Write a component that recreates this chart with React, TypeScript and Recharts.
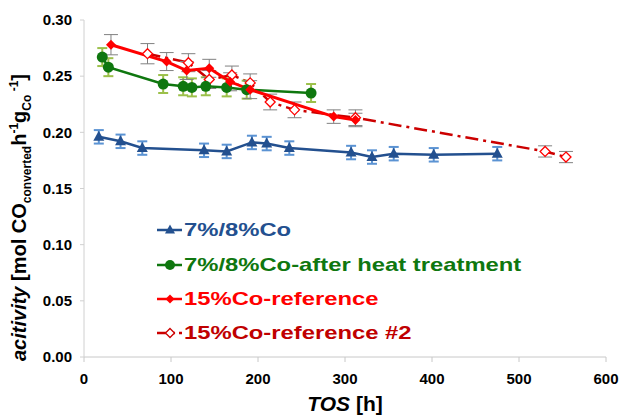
import React from 'react';
import { LineChart, Line, XAxis, YAxis, ErrorBar, Legend } from 'recharts';

// ---- data ----
const blueX = [17, 42, 67, 138, 164, 193, 210, 236, 307, 331, 356, 402, 475];
const blueY = [0.196, 0.192, 0.186, 0.184, 0.183, 0.191, 0.19, 0.186, 0.182, 0.178, 0.181, 0.18, 0.181];
const blueErr = [0.006, 0.006, 0.006, 0.006, 0.006, 0.006, 0.006, 0.006, 0.006, 0.006, 0.006, 0.006, 0.006];

const greenX = [21, 28, 91, 114, 124, 140, 164, 187, 261];
const greenY = [0.267, 0.258, 0.243, 0.241, 0.24, 0.241, 0.24, 0.238, 0.235];
const greenErr = [0.008, 0.008, 0.008, 0.008, 0.008, 0.008, 0.008, 0.008, 0.008];

const redX = [31, 95, 118, 144, 168, 191, 287, 312];
const redY = [0.278, 0.263, 0.255, 0.257, 0.245, 0.238, 0.214, 0.211];
const redErr = [0.009, 0.008, 0.008, 0.008, 0.008, 0.008, 0.006, 0.006];

const red2X = [73, 120, 144, 170, 191, 214, 242, 312, 530, 554];
const red2Y = [0.27, 0.262, 0.247, 0.251, 0.244, 0.227, 0.22, 0.213, 0.183, 0.178];
const red2Err = [0.009, 0.008, 0.008, 0.008, 0.008, 0.007, 0.007, 0.007, 0.005, 0.005];

const seriesNames = ['7%/8%Co', '7%/8%Co-after heat treatment', '15%Co-reference', '15%Co-reference #2'];
const xTicks = [0, 100, 200, 300, 400, 500, 600];
const yTicks = [0, 0.05, 0.1, 0.15, 0.2, 0.25, 0.3];

const toRows = (xs: number[], ys: number[], es: number[]) =>
  xs.map((x, i) => ({ x, y: ys[i], err: es[i] }));

const blueData = toRows(blueX, blueY, blueErr);
const greenData = toRows(greenX, greenY, greenErr);
const redData = toRows(redX, redY, redErr);
const red2Data = toRows(red2X, red2Y, red2Err);

// ---- styles ----
const BLUE = '#23508f';
const BLUE_ERR = '#5b93d3';
const GREEN = '#0f770f';
const GREEN_ERR = '#9cc04a';
const RED = '#ff0000';
const RED2 = '#cc0000';
const RED2_TEXT = '#c00000';
const GRAY_ERR = '#808080';
const FONT = '"Liberation Sans", Arial, sans-serif';

const Triangle = (p: any) => {
  const { cx, cy, fill } = p;
  if (cx == null || cy == null) return null;
  return <polygon key={p.key ?? `${cx}-${cy}`} points={`${cx},${cy - 6} ${cx - 5.5},${cy + 4} ${cx + 5.5},${cy + 4}`} fill={fill} />;
};
const Circle = (p: any) => {
  const { cx, cy, fill } = p;
  if (cx == null || cy == null) return null;
  return <circle key={p.key ?? `${cx}-${cy}`} cx={cx} cy={cy} r={5.5} fill={fill} />;
};
const Diamond = (p: any) => {
  const { cx, cy, fill, stroke, hollow } = p;
  if (cx == null || cy == null) return null;
  return (
    <polygon
      key={p.key ?? `${cx}-${cy}`}
      points={`${cx},${cy - 5} ${cx + 5},${cy} ${cx},${cy + 5} ${cx - 5},${cy}`}
      fill={hollow ? '#fff' : fill}
      stroke={stroke}
      strokeWidth={hollow ? 1.3 : 0}
    />
  );
};

const YLabel = (props: any) => {
  const cx = 26;
  const cy = 361;
  return (
    <text
      transform={`rotate(-90, ${cx}, ${cy})`}
      x={cx}
      y={cy}
      textAnchor="start"
      fontFamily={FONT}
      fontWeight="bold"
      fontSize={20}
      fill="#000"
    >
      <tspan fontStyle="italic">acitivity</tspan>
      <tspan> [mol CO</tspan>
      <tspan fontSize={12} dy={5}>converted</tspan>
      <tspan dy={-5}>h</tspan>
      <tspan fontSize={12} dy={-8}>-1</tspan>
      <tspan dy={8}>g</tspan>
      <tspan fontSize={12} dy={5}>Co</tspan>
      <tspan fontSize={12} dy={-13}> -1</tspan>
      <tspan dy={8}>]</tspan>
    </text>
  );
};

const XLabel = (props: any) => (
  <text x={345} y={411} textAnchor="middle" fontFamily={FONT} fontWeight="bold" fontSize={21} fill="#000">
    <tspan fontStyle="italic">TOS</tspan>
    <tspan> [h]</tspan>
  </text>
);

const legendItems = [
  { name: seriesNames[0], color: BLUE, text: BLUE, marker: 'tri', dash: undefined },
  { name: seriesNames[1], color: GREEN, text: GREEN, marker: 'circ', dash: undefined },
  { name: seriesNames[2], color: RED, text: RED, marker: 'dia', dash: undefined },
  { name: seriesNames[3], color: RED2, text: RED2_TEXT, marker: 'hdia', dash: '11 4 3 4' },
];

const renderLegend = () => (
  <div style={{ fontFamily: FONT, fontWeight: 'bold', fontSize: 18.6 }}>
    {legendItems.map((it) => (
      <div key={it.name} style={{ height: 34.4, display: 'flex', alignItems: 'center', whiteSpace: 'nowrap' }}>
        <svg width={26} height={20} style={{ display: 'block' }}>
          <line x1={0} y1={10} x2={25} y2={10} stroke={it.color} strokeWidth={2.5} strokeDasharray={it.dash} />
          {it.marker === 'tri' && <polygon points="13,4.5 8,13.5 18,13.5" fill={it.color} />}
          {it.marker === 'circ' && <circle cx={13} cy={10} r={5} fill={it.color} />}
          {it.marker === 'dia' && <polygon points="13,5.5 17.5,10 13,14.5 8.5,10" fill={it.color} />}
          {it.marker === 'hdia' && <polygon points="13,5.5 17.5,10 13,14.5 8.5,10" fill="#fff" stroke={it.color} strokeWidth={1.3} />}
        </svg>
        <span
          style={{
            color: it.text,
            marginLeft: 1,
            display: 'inline-block',
            transform: 'scaleX(1.28)',
            transformOrigin: 'left center',
          }}
        >
          {it.name}
        </span>
      </div>
    ))}
  </div>
);

export default function App() {
  return (
    <div style={{ position: 'absolute', left: 0, top: 0, width: 619, height: 415, background: '#fff' }}>
      <LineChart width={619} height={415} margin={{ top: 20, right: 13, bottom: 8, left: 0 }}>
        <XAxis
          type="number"
          dataKey="x"
          domain={[0, 600]}
          ticks={xTicks}
          allowDataOverflow
          height={50}
          stroke="#c8c8c8"
          tickSize={5}
          tickMargin={11}
          tick={{ fill: '#000', fontSize: 15, fontWeight: 'bold', fontFamily: FONT }}
          label={<XLabel />}
        />
        <YAxis
          type="number"
          dataKey="y"
          domain={[0, 0.3]}
          ticks={yTicks}
          width={84}
          stroke="#d0d0d0"
          tickSize={4}
          tickMargin={8}
          tickFormatter={(v: number) => v.toFixed(2)}
          tick={{ fill: '#000', fontSize: 15, fontWeight: 'bold', fontFamily: FONT }}
          label={<YLabel />}
        />
        <Legend
          layout="vertical"
          align="center"
          verticalAlign="middle"
          content={renderLegend}
          wrapperStyle={{ position: 'absolute', left: 157, top: 213, width: 420, height: 140 }}
        />
        <Line
          data={red2Data}
          dataKey="y"
          name={seriesNames[3]}
          stroke={RED2}
          strokeWidth={2.5}
          strokeDasharray="13 5 3 5"
          isAnimationActive={false}
          dot={(p: any) => <Diamond {...p} stroke={RED} hollow />}
          activeDot={false}
        >
          <ErrorBar dataKey="err" direction="y" width={7} stroke={GRAY_ERR} strokeWidth={1} />
        </Line>
        <Line
          data={blueData}
          dataKey="y"
          name={seriesNames[0]}
          stroke={BLUE}
          strokeWidth={2.5}
          isAnimationActive={false}
          dot={(p: any) => <Triangle {...p} fill={BLUE} />}
          activeDot={false}
        >
          <ErrorBar dataKey="err" direction="y" width={5} stroke={BLUE_ERR} strokeWidth={2} />
        </Line>
        <Line
          data={greenData}
          dataKey="y"
          name={seriesNames[1]}
          stroke={GREEN}
          strokeWidth={2.5}
          isAnimationActive={false}
          dot={(p: any) => <Circle {...p} fill={GREEN} />}
          activeDot={false}
        >
          <ErrorBar dataKey="err" direction="y" width={5} stroke={GREEN_ERR} strokeWidth={2} />
        </Line>
        <Line
          data={redData}
          dataKey="y"
          name={seriesNames[2]}
          stroke={RED}
          strokeWidth={3}
          isAnimationActive={false}
          dot={(p: any) => <Diamond {...p} fill={RED} stroke={RED} />}
          activeDot={false}
        >
          <ErrorBar dataKey="err" direction="y" width={7} stroke={GRAY_ERR} strokeWidth={1} />
        </Line>
      </LineChart>
    </div>
  );
}
